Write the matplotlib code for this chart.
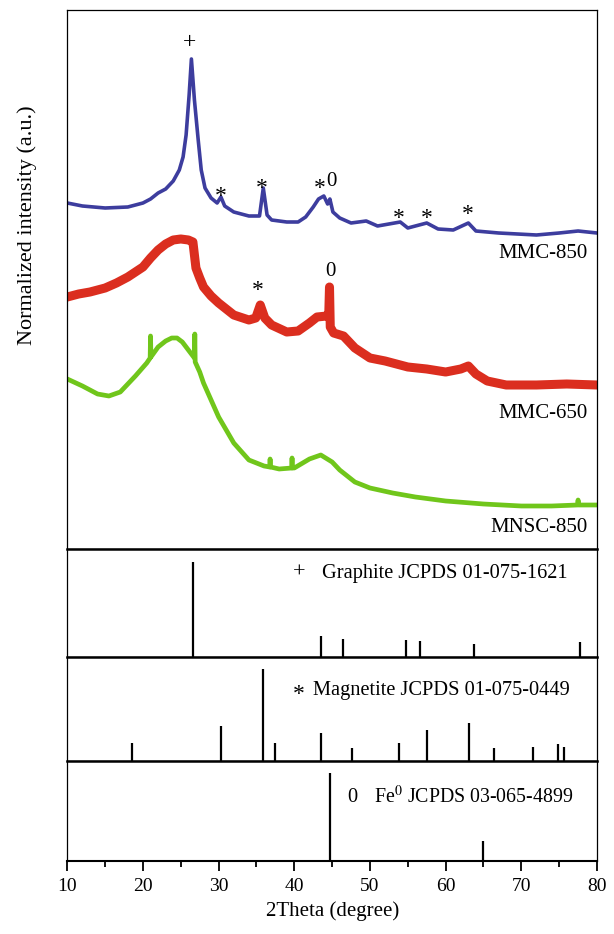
import numpy as np
import matplotlib.pyplot as plt
from matplotlib.ticker import MultipleLocator

plt.rcParams['font.family'] = ['Liberation Serif', 'DejaVu Serif']
plt.rcParams['mathtext.fontset'] = 'stix'

# XRD patterns (2theta, normalized intensity in a.u.)
mmc850_x = [10, 12, 15, 18, 20, 21, 22, 23, 24, 24.8, 25.3, 25.7, 26.1, 26.4, 26.8, 27.3,
            27.7, 28.2, 29, 29.8, 30.3, 30.8, 32, 34, 35.4, 35.9, 36.4, 37, 39, 40.5,
            41.5, 42.5, 43.2, 43.9, 44.4, 44.7, 45.1, 46, 47.5, 49.5, 51, 54, 55, 57.5,
            59, 61, 63, 64, 67, 72, 75, 77.5, 80]
mmc850_y = [346, 343, 341, 342, 346, 350, 356, 360, 368, 379, 392, 414, 454, 490, 449, 409,
            379, 361, 351, 346, 352, 343, 337, 333, 333, 361, 334, 329, 327, 327,
            332, 342, 350, 353, 345, 350, 337, 331, 326, 328, 323, 327, 321, 326,
            320, 319, 326, 318, 316, 314, 316, 318, 316]

mmc650_x = [10, 11.5, 13, 15, 16.5, 18, 20, 21, 22, 23, 24, 25, 26, 26.6, 27, 27.5, 28,
            29, 30, 32, 34, 34.9, 35.5, 36.1, 37, 39, 40.5, 42, 43, 44.3, 44.55, 44.65,
            44.75, 45.2, 46.5, 48, 50, 52, 55, 57.5, 60, 62, 63, 64, 65.5, 68, 72, 76, 80]
mmc650_y = [252, 255, 257, 261, 266, 272, 282, 291, 299, 305, 309, 310, 309, 307, 281,
            271, 262, 253, 246, 234, 229, 231, 244, 231, 224, 217, 218, 226, 232, 233,
            234, 262, 222, 216, 213, 201, 191, 188, 182, 180, 177, 180, 183, 175, 168,
            164, 164, 165, 164]

mnsc850_x = [10, 12, 14, 15.5, 17, 19, 20.5, 20.95, 21.0, 21.05, 22, 23, 23.8, 24.5, 25.2,
             25.9, 26.5, 26.8, 26.85, 26.9, 27.5, 28, 29, 30, 31, 32, 34, 36, 36.75, 36.8,
             36.85, 38, 39.65, 39.7, 39.75, 40, 42, 43.5, 45, 46, 48, 50, 53, 56, 60,
             65, 70, 74, 77.4, 77.5, 77.6, 80]
mnsc850_y = [170, 163, 155, 153, 157, 173, 186, 191, 213, 192, 202, 208, 211, 211, 207,
             200, 194, 191, 215, 187, 177, 166, 149, 132, 119, 106, 89, 83, 82, 90,
             82, 80, 81, 91, 81, 81, 90, 94, 87, 79, 67, 61, 56, 52, 48,
             45, 43, 43, 44, 49, 44, 44]

# reference patterns (2theta, relative intensity)
graphite_pos = [26.6, 43.5, 46.4, 54.7, 56.6, 63.7, 77.7]
graphite_int = [100, 21.8, 18.6, 17.9, 16.8, 13.3, 15.4]
magnetite_pos = [18.5, 30.3, 35.8, 37.4, 43.5, 47.6, 53.9, 57.5, 63.1, 66.4, 71.6, 74.8, 75.7]
magnetite_int = [19.3, 37.8, 100, 19.3, 30.2, 13.8, 19.3, 33.2, 41.1, 13.8, 14.9, 18.2, 14.9]
iron_pos = [44.7, 65.0]
iron_int = [100, 23.0]

W, H = 614, 934
fig = plt.figure(figsize=(W / 100, H / 100), dpi=100)


def box(top, bottom):
    # axes rectangle from pixel rows
    left, right = 67.3, 597
    return [left / W, (H - bottom) / H, (right - left) / W, (bottom - top) / H]


ax = fig.add_axes(box(10, 549))
ax_g = fig.add_axes(box(549, 656.7))
ax_m = fig.add_axes(box(656.7, 760.7))
ax_f = fig.add_axes(box(760.7, 861))

ax.plot(mmc850_x, mmc850_y, color='#3d3d9e', lw=2.6, solid_joinstyle='round')
ax.plot(mmc650_x, mmc650_y, color='#db2e1f', lw=6.5, solid_joinstyle='round')
ax.plot(mnsc850_x, mnsc850_y, color='#70c61b', lw=3.4, solid_joinstyle='round')
ax.set_ylim(0, 539)

fs = 15
ax.text(26.1, 506, '+', ha='center', va='center', fontsize=17)
for x, y in [(30.25, 353), (35.73, 360), (43.4, 361), (53.84, 331), (57.54, 331),
             (62.96, 335), (35.16, 258)]:
    ax.text(x, y, '*', ha='center', va='center', fontsize=17)
ax.text(44.94, 367, '0', ha='center', va='center', fontsize=fs)
ax.text(44.72, 277, '0', ha='center', va='center', fontsize=fs)
ax.text(78.7, 296, 'MMC-850', ha='right', va='center', fontsize=fs)
ax.text(78.7, 136, 'MMC-650', ha='right', va='center', fontsize=fs)
ax.text(78.7, 22, 'MNSC-850', ha='right', va='center', fontsize=fs)

ax_g.vlines(graphite_pos, 0, graphite_int, color='black', lw=1.6)
ax_m.vlines(magnetite_pos, 0, magnetite_int, color='black', lw=1.6)
ax_f.vlines(iron_pos, 0, iron_int, color='black', lw=1.6)

lfs = 14.7
ax_g.text(40.6, 0.78, '+', transform=ax_g.get_xaxis_transform(), ha='center', va='center', fontsize=16)
ax_g.text(43.62, 0.777, 'Graphite JCPDS 01-075-1621', transform=ax_g.get_xaxis_transform(),
          ha='left', va='center', fontsize=lfs)
ax_m.text(40.6, 0.64, '*', transform=ax_m.get_xaxis_transform(), ha='center', va='center', fontsize=17)
ax_m.text(42.47, 0.673, 'Magnetite JCPDS 01-075-0449', transform=ax_m.get_xaxis_transform(),
          ha='left', va='center', fontsize=lfs)
ax_f.text(47.6, 0.638, '0', transform=ax_f.get_xaxis_transform(), ha='center', va='center', fontsize=lfs)
ax_f.text(50.5, 0.638, 'Fe$^{0}$ JCPDS 03-065-4899', transform=ax_f.get_xaxis_transform(),
          ha='left', va='center', fontsize=14.3)

for a in [ax, ax_g, ax_m, ax_f]:
    a.set_xlim(10, 80)
    a.set_yticks([])
    for s in a.spines.values():
        s.set_linewidth(0.9)
    if a is not ax_f:
        a.set_xticks([])
for a in [ax_g, ax_m, ax_f]:
    a.set_ylim(0, 113.5)
    a.spines['top'].set_linewidth(1.8)
ax_f.spines['bottom'].set_linewidth(1.5)

ax_f.xaxis.set_major_locator(MultipleLocator(10))
ax_f.xaxis.set_minor_locator(MultipleLocator(5))
ax_f.tick_params(axis='x', which='major', direction='out', length=7, width=1.3,
                 labelsize=14, pad=5)
ax_f.tick_params(axis='x', which='minor', direction='out', length=4, width=1.3)
ax_f.set_xlabel('2Theta (degree)', fontsize=fs, labelpad=5)

fig.text(27 / W, 1 - 225 / H, 'Normalized intensity (a.u.)', rotation=90,
         ha='center', va='center', fontsize=16)

plt.savefig('out.png', dpi=100)
